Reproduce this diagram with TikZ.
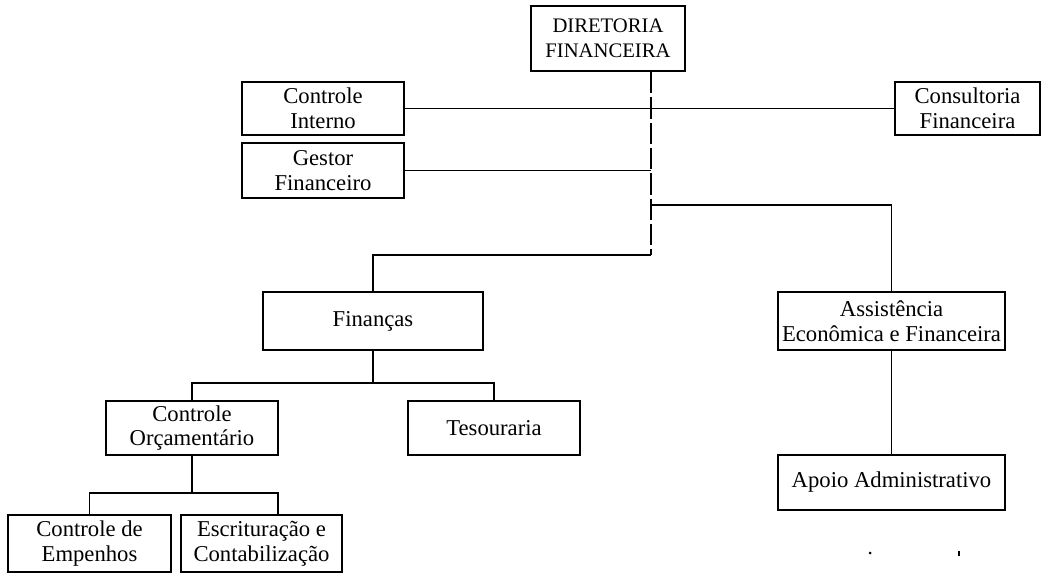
\documentclass[tikz,border=0pt]{standalone}
\usepackage{fontspec}
\setmainfont{Liberation Serif}
\begin{document}
\begin{tikzpicture}[x=0.75pt,y=-0.75pt,
  unit/.style={draw=black, line width=1.5pt, align=center, inner sep=0pt,
    font=\fontsize{17}{18.5}\selectfont},
  sz/.style 2 args={minimum width=#1*0.75pt, minimum height=#2*0.75pt},
  link/.style={draw=black, line width=1.4pt},
  spine/.style={link, dash pattern=on 16pt off 3pt}]
\useasboundingbox (0,0) rectangle (1041,575);

% units
\node[unit, sz={154}{65}, font=\fontsize{15.5}{18.5}\selectfont] (dir) at (608,38.5) {DIRETORIA\\FINANCEIRA};
\node[unit, sz={162}{53}] (ci)  at (323,108.5) {Controle\\Interno};
\node[unit, sz={162}{55}] (gf)  at (323,170.5) {Gestor\\Financeiro};
\node[unit, sz={145}{53}] (cf)  at (967.5,108.5) {Consultoria\\Financeira};
\node[unit, sz={220}{58}] (fin) at (373,321) {Finanças};
\node[unit, sz={227}{58}] (aef) at (891.5,321) {Assistência\\Econômica e Financeira};
\node[unit, sz={172}{54}] (co)  at (192,428) {Controle\\Orçamentário};
\node[unit, sz={172}{54}] (tes) at (494,428) {Tesouraria};
\node[unit, sz={227}{55}] (apo) at (891.5,482.5) {Apoio Administrativo};
\node[unit, sz={163}{57}] (cde) at (89.5,543.5) {Controle de\\Empenhos};
\node[unit, sz={161}{57}] (esc) at (261.5,543.5) {Escrituração e\\Contabilização};

% routing points
\coordinate (spx) at (651,0);
\coordinate (spEnd) at (651,255);
\coordinate (brR) at (651,205);
\coordinate (finBar) at (0,383);
\coordinate (coBar) at (0,493);
\coordinate (escIn) at (278,0);

% connectors
\draw[spine] (dir.south -| spx) -- (spEnd);
\draw[link] (ci.east) -- (cf.west);
\draw[link] (gf.east) -- (gf.east -| spx);
\draw[link] (brR) -| (aef.north);
\draw[link] (spEnd) -| (fin.north);
\draw[link] (fin.south) -- (fin.south |- finBar);
\draw[link] (co.north) |- (tes.north |- finBar) -- (tes.north);
\draw[link] (aef.south) -- (apo.north);
\draw[link] (co.south) -- (co.south |- coBar);
\draw[link] (cde.north) |- (coBar -| escIn) -- (esc.north -| escIn);

% specks near the lower edge
\fill (870,553) circle (1.5);
\fill (958,551) rectangle (960,556);
\end{tikzpicture}
\end{document}
